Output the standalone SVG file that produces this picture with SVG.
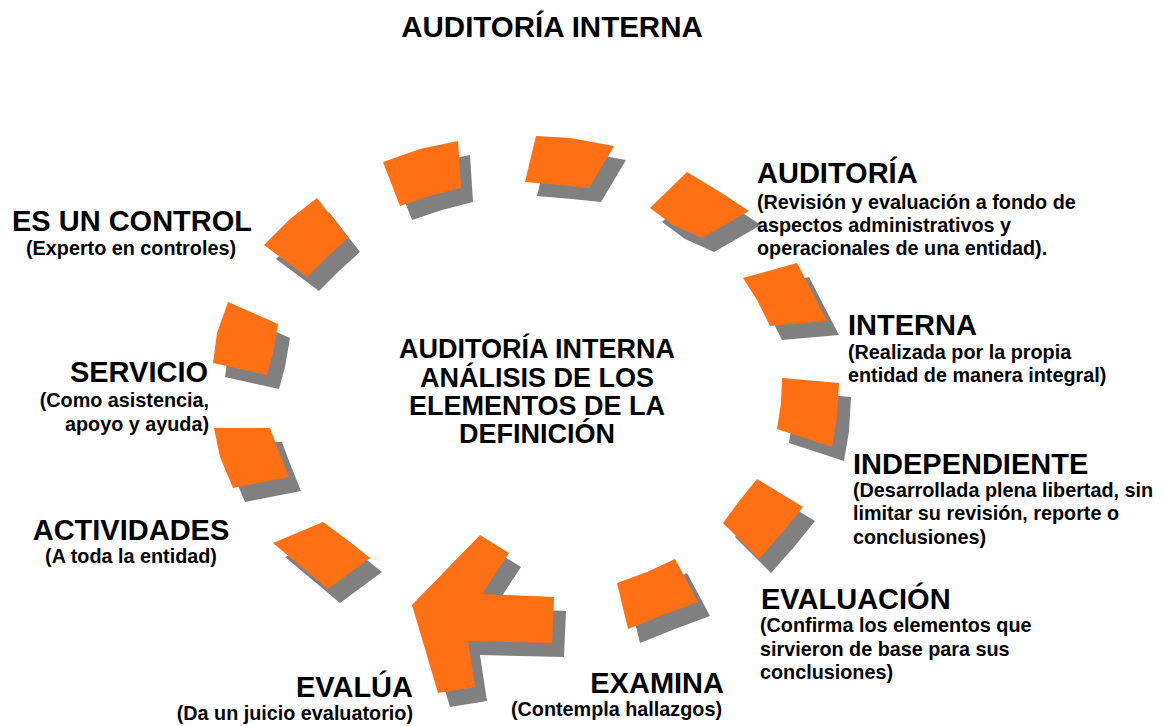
<svg xmlns="http://www.w3.org/2000/svg" xmlns:xlink="http://www.w3.org/1999/xlink" width="1165" height="726" viewBox="0 0 1165 726">
<style>
.or{fill:#FF6F13}
.sh{fill:#808080}
text{font-family:"Liberation Sans",Arial,Helvetica,sans-serif;font-weight:bold;fill:#000}
.h{font-size:29px}
.t{font-size:29.5px}
.s{font-size:19.8px}
.c{font-size:27px}
</style>
<defs>
<polygon id="s1" points="264,245 290,219 317,198 348,238 327,257 307,277"/>
<polygon id="s2" points="383,162 420,149 458,141 461,188 430,196 400,206"/>
<polygon id="s3" points="536,136 570,138 614,146 589,188 560,185 525,182"/>
<polygon id="s4" points="687,172 720,192 749,211 702,238 673,225 650,208"/>
<polygon id="s5" points="743,278 797,263 812,292 827,321 770,326 757,300"/>
<polygon id="s6" points="782,378 839,383 837,417 832,447 777,429 781,403"/>
<polygon id="s7" points="757,479 803,507 782,533 759,559 723,523 740,500"/>
<polygon id="s8" points="617,583 647,572 675,559 698,602 663,615 628,629"/>
<polygon id="s9" points="480,535 509,553 482,594 554,597 552,643 468,641 475,687 438,693 412,605"/>
<polygon id="s10" points="273,543 323,522 350,542 370,558 328,589"/>
<polygon id="s11" points="214,428 270,428 277,447 289,477 233,488 220,457"/>
<polygon id="s12" points="228,302 278,324 273,353 267,375 213,363 217,333"/>
</defs>

<text id="title" class="t" x="552" y="37" text-anchor="middle">AUDITORÍA INTERNA</text>

<g id="connectors">
<use xlink:href="#s1" class="sh" transform="translate(12,14)"/><use xlink:href="#s1" class="or"/>
<use xlink:href="#s2" class="sh" transform="translate(12,14)"/><use xlink:href="#s2" class="or"/>
<use xlink:href="#s3" class="sh" transform="translate(12,14)"/><use xlink:href="#s3" class="or"/>
<use xlink:href="#s4" class="sh" transform="translate(12,14)"/><use xlink:href="#s4" class="or"/>
<use xlink:href="#s5" class="sh" transform="translate(12,14)"/><use xlink:href="#s5" class="or"/>
<use xlink:href="#s6" class="sh" transform="translate(12,14)"/><use xlink:href="#s6" class="or"/>
<use xlink:href="#s7" class="sh" transform="translate(12,14)"/><use xlink:href="#s7" class="or"/>
<use xlink:href="#s8" class="sh" transform="translate(12,14)"/><use xlink:href="#s8" class="or"/>
<use xlink:href="#s9" class="sh" transform="translate(12,14)"/><use xlink:href="#s9" class="or"/>
<use xlink:href="#s10" class="sh" transform="translate(12,14)"/><use xlink:href="#s10" class="or"/>
<use xlink:href="#s11" class="sh" transform="translate(12,14)"/><use xlink:href="#s11" class="or"/>
<use xlink:href="#s12" class="sh" transform="translate(12,14)"/><use xlink:href="#s12" class="or"/>
</g>

<g id="center">
<text class="c" x="537" y="358" text-anchor="middle">AUDITORÍA INTERNA</text>
<text class="c" x="537" y="387" text-anchor="middle">ANÁLISIS DE LOS</text>
<text class="c" x="537" y="415" text-anchor="middle">ELEMENTOS DE LA</text>
<text class="c" x="537" y="443" text-anchor="middle">DEFINICIÓN</text>
</g>

<g id="auditoria">
<text class="h" x="757" y="183">AUDITORÍA</text>
<text class="s" x="757" y="209">(Revisión y evaluación a fondo de</text>
<text class="s" x="757" y="232">aspectos administrativos y</text>
<text class="s" x="757" y="255">operacionales de una entidad).</text>
</g>

<g id="interna">
<text class="h" x="848" y="335">INTERNA</text>
<text class="s" x="848" y="359">(Realizada por la propia</text>
<text class="s" x="848" y="382">entidad de manera integral)</text>
</g>

<g id="independiente">
<text class="h" x="853" y="474">INDEPENDIENTE</text>
<text class="s" x="853" y="497">(Desarrollada plena libertad, sin</text>
<text class="s" x="853" y="520">limitar su revisión, reporte o</text>
<text class="s" x="853" y="544">conclusiones)</text>
</g>

<g id="evaluacion">
<text class="h" x="761" y="609">EVALUACIÓN</text>
<text class="s" x="760" y="632">(Confirma los elementos que</text>
<text class="s" x="760" y="656">sirvieron de base para sus</text>
<text class="s" x="760" y="679">conclusiones)</text>
</g>

<g id="examina">
<text class="h" x="724" y="693" text-anchor="end">EXAMINA</text>
<text class="s" x="722" y="716" text-anchor="end">(Contempla hallazgos)</text>
</g>

<g id="evalua">
<text class="h" x="413" y="697" text-anchor="end">EVALÚA</text>
<text class="s" x="413" y="720" text-anchor="end">(Da un juicio evaluatorio)</text>
</g>

<g id="actividades">
<text class="h" x="131" y="540" text-anchor="middle">ACTIVIDADES</text>
<text class="s" x="131" y="563" text-anchor="middle">(A toda la entidad)</text>
</g>

<g id="servicio">
<text class="h" x="208" y="382" text-anchor="end">SERVICIO</text>
<text class="s" x="209" y="407" text-anchor="end">(Como asistencia,</text>
<text class="s" x="209" y="431" text-anchor="end">apoyo y ayuda)</text>
</g>

<g id="control">
<text class="h" x="132" y="231" text-anchor="middle">ES UN CONTROL</text>
<text class="s" x="131" y="255" text-anchor="middle">(Experto en controles)</text>
</g>
</svg>
